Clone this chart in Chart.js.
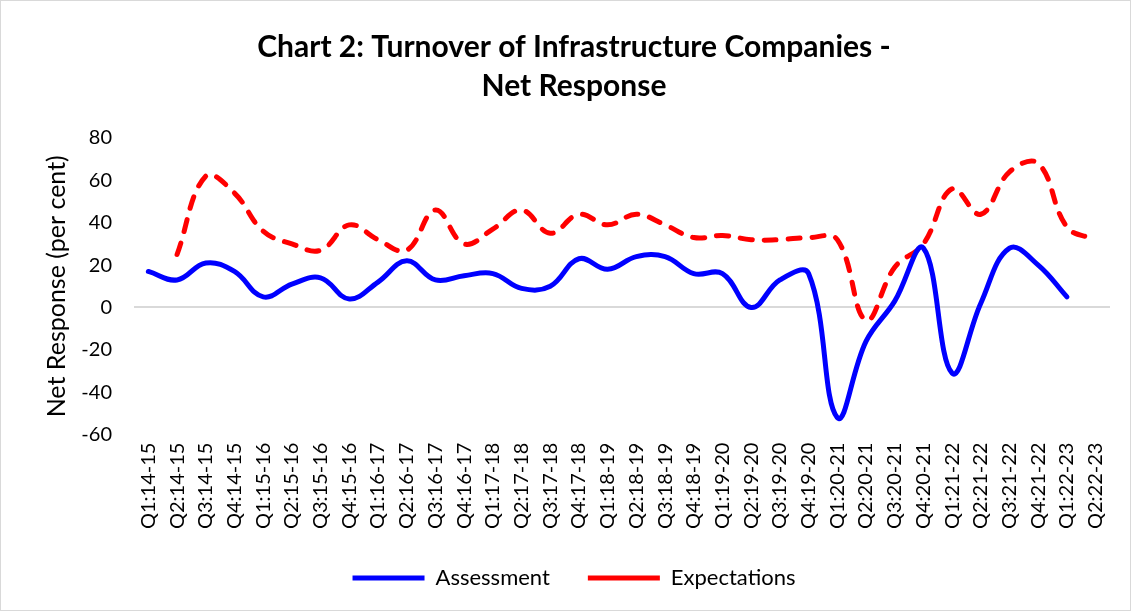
<!DOCTYPE html>
<html>
<head>
<meta charset="utf-8">
<script src="https://cdn.jsdelivr.net/npm/chart.js@4.4.1/dist/chart.umd.min.js"></script>
<style>
  html, body { margin: 0; padding: 0; background: #fff; }
  #wrap { width: 1131px; height: 611px; box-sizing: border-box; border: 1px solid #d9d9d9; }
</style>
</head>
<body>
<div id="wrap"><canvas id="turnover-net-response" width="1129" height="609"></canvas></div>
<script>
// quarters shown on the x axis
var quarters = [
  'Q1:14-15', 'Q2:14-15', 'Q3:14-15', 'Q4:14-15',
  'Q1:15-16', 'Q2:15-16', 'Q3:15-16', 'Q4:15-16',
  'Q1:16-17', 'Q2:16-17', 'Q3:16-17', 'Q4:16-17',
  'Q1:17-18', 'Q2:17-18', 'Q3:17-18', 'Q4:17-18',
  'Q1:18-19', 'Q2:18-19', 'Q3:18-19', 'Q4:18-19',
  'Q1:19-20', 'Q2:19-20', 'Q3:19-20', 'Q4:19-20',
  'Q1:20-21', 'Q2:20-21', 'Q3:20-21', 'Q4:20-21',
  'Q1:21-22', 'Q2:21-22', 'Q3:21-22', 'Q4:21-22',
  'Q1:22-23', 'Q2:22-23'
];

// net response, per cent
var assessment = [
  17, 13, 21, 17,
  5, 11, 14, 4,
  12, 22, 13, 15,
  16, 9, 10, 23,
  18, 24, 24, 16,
  16, 0, 13, 16,
  -52, -16, 3, 28,
  -31, 2, 28, 20,
  5, null
];

var expectations = [
  null, 25, 62, 54,
  36, 30, 27, 39,
  32, 27, 46, 30,
  37, 46, 35, 44,
  39, 44, 39, 33,
  34, 32, 32, 33,
  32, -6, 19, 30,
  56, 44, 64, 68,
  38, 32
];

var yTicks = { min: -60, max: 80, step: 20 };

var fontFamily = 'Lato, "Open Sans", sans-serif';

var chartContext = document.getElementById('turnover-net-response');
var chart = new Chart(chartContext, {
  type: 'line',
  data: {
    labels: quarters,
    datasets: [
      {
        label: 'Assessment',
        data: assessment,
        borderColor: '#0000ff',
        backgroundColor: '#0000ff',
        borderWidth: 5,
        borderCapStyle: 'round',
        borderJoinStyle: 'round',
        tension: 0.4,
        pointRadius: 0,
        fill: false
      },
      {
        label: 'Expectations',
        data: expectations,
        borderColor: '#ff0000',
        backgroundColor: '#ff0000',
        borderWidth: 5,
        borderDash: [12, 12],
        borderCapStyle: 'round',
        borderJoinStyle: 'round',
        tension: 0.4,
        pointRadius: 0,
        fill: false
      }
    ]
  },
  options: {
    responsive: false,
    animation: false,
    layout: {
      padding: { left: 37, right: 20, top: 0, bottom: 11 }
    },
    plugins: {
      title: {
        display: true,
        text: ['Chart 2: Turnover of Infrastructure Companies -', 'Net Response'],
        color: '#000',
        font: { family: fontFamily, size: 30, weight: 'bold', lineHeight: 1.3 },
        padding: { top: 27, bottom: 32 }
      },
      legend: {
        display: true,
        position: 'bottom',
        labels: {
          usePointStyle: true,
          pointStyle: 'line',
          pointStyleWidth: 72,
          color: '#000',
          font: { family: fontFamily, size: 22 },
          padding: 38
        }
      },
      tooltip: { enabled: false }
    },
    scales: {
      x: {
        offset: true,
        grid: { display: false },
        border: { display: false },
        ticks: {
          color: '#000',
          font: { family: fontFamily, size: 20 },
          maxRotation: 90,
          minRotation: 90,
          autoSkip: false,
          padding: 0
        }
      },
      y: {
        min: yTicks.min,
        max: yTicks.max,
        border: { display: false },
        afterFit: function (scale) {
          scale.width = 96;
        },
        grid: {
          drawTicks: false,
          lineWidth: 2,
          color: function (ctx) {
            return ctx.tick && ctx.tick.value === 0 ? '#d9d9d9' : 'rgba(0,0,0,0)';
          }
        },
        ticks: {
          stepSize: yTicks.step,
          color: '#000',
          font: { family: fontFamily, size: 20 },
          padding: 22
        },
        title: {
          display: true,
          text: 'Net Response (per cent)',
          color: '#000',
          font: { family: fontFamily, size: 25 },
          padding: 4
        }
      }
    }
  }
});
</script>
</body>
</html>
